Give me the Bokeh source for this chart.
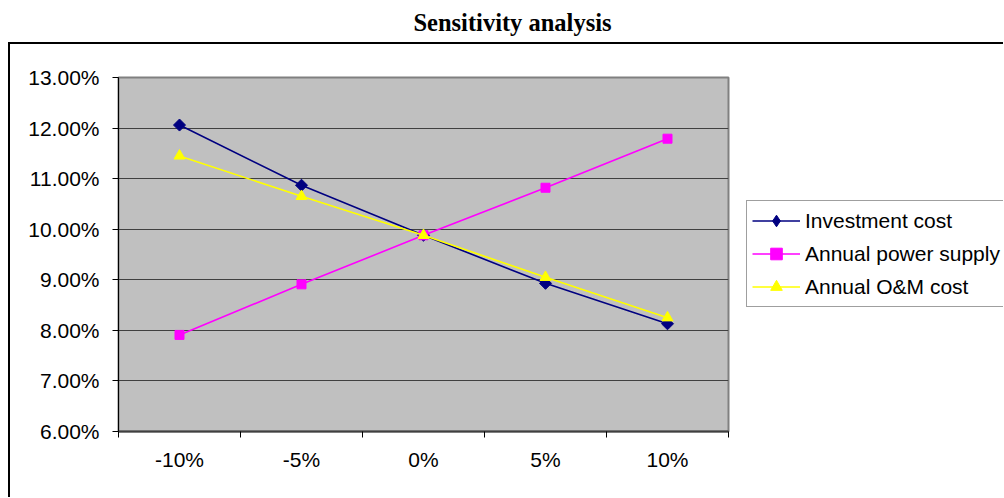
import math
from bokeh.plotting import figure
from bokeh.models import (Range1d, FixedTicker, NumeralTickFormatter, Legend,
                          LegendItem, Label, Row, Column)
from bokeh.embed import file_html
from bokeh.resources import INLINE

# ---- data ----
scenarios = ["-10%", "-5%", "0%", "5%", "10%"]
investment_cost = [0.1206, 0.1087, 0.0988, 0.0893, 0.0813]
annual_power_supply = [0.0791, 0.0891, 0.0988, 0.1082, 0.1179]
annual_om_cost = [0.1145, 0.1065, 0.0988, 0.0905, 0.0825]
y_ticks = [0.06, 0.07, 0.08, 0.09, 0.10, 0.11, 0.12, 0.13]
series_names = ["Investment cost", "Annual power supply", "Annual O&M cost"]
title_text = "Sensitivity analysis"

# category centres / boundaries on a numeric axis
x_pos = [i + 0.5 for i in range(len(scenarios))]
x_bounds = list(range(len(scenarios) + 1))

FONT = "Liberation Sans"
NAVY, MAGENTA, YELLOW = "#000080", "#FF00FF", "#FFFF00"

# ---------------- title strip ----------------
TW, TH = 995, 34
tfig = figure(width=TW, height=TH, output_backend="svg", toolbar_location=None,
              title=None, x_range=Range1d(0, TW), y_range=Range1d(0, TH),
              x_axis_type=None, y_axis_type=None, min_border=0)
tfig.outline_line_color = None
tfig.background_fill_color = "white"
tfig.border_fill_color = "white"
tfig.add_layout(Label(x=504, y=TH - 14, text=title_text,
                      text_font="Liberation Serif", text_font_style="bold",
                      text_font_size="24.5px", text_align="center",
                      text_baseline="alphabetic", text_color="black"))

# ---------------- main chart ----------------
MH = 453
FL, FT, FW, FH = 108, 33, 610, 354
FB = MH - FT - FH
MW = FL + FW + 10
p = figure(width=MW, height=MH, output_backend="svg", toolbar_location=None, title=None,
           x_range=Range1d(0, len(scenarios)), y_range=Range1d(y_ticks[0], y_ticks[-1]),
           min_border_left=FL, min_border_top=FT, min_border_right=10,
           min_border_bottom=FB)
p.background_fill_color = "#C0C0C0"
p.border_fill_color = "white"
p.outline_line_color = "#808080"
p.outline_line_width = 2

p.xgrid.visible = False
p.ygrid.ticker = FixedTicker(ticks=y_ticks)
p.ygrid.grid_line_color = "#404040"
p.ygrid.grid_line_width = 1

ya = p.yaxis[0]
ya.ticker = FixedTicker(ticks=y_ticks)
ya.formatter = NumeralTickFormatter(format="0.00%")
ya.major_tick_out = 6
ya.major_tick_in = 0
ya.minor_tick_line_color = None
ya.axis_line_color = "black"
ya.axis_line_width = 1
ya.major_tick_line_color = "black"
ya.major_label_text_font = FONT
ya.major_label_text_font_size = "21px"
ya.major_label_text_color = "black"
ya.major_label_standoff = 13

xa = p.xaxis[0]
xa.ticker = FixedTicker(ticks=x_pos, minor_ticks=x_bounds)
xa.major_label_overrides = {xv: s for xv, s in zip(x_pos, scenarios)}
xa.major_tick_out = 0
xa.major_tick_in = 0
xa.minor_tick_out = 6
xa.minor_tick_in = 0
xa.minor_tick_line_color = "black"
xa.axis_line_color = "#404040"
xa.axis_line_width = 2
xa.major_label_text_font = FONT
xa.major_label_text_font_size = "21px"
xa.major_label_text_color = "black"
xa.major_label_standoff = 10

p.line(x_pos, investment_cost, line_color=NAVY, line_width=1.6)
p.scatter(x_pos, investment_cost, marker="square", angle=math.pi / 4, size=8.5,
          fill_color=NAVY, line_color=NAVY)
p.line(x_pos, annual_power_supply, line_color=MAGENTA, line_width=1.6)
p.scatter(x_pos, annual_power_supply, marker="square", size=9,
          fill_color=MAGENTA, line_color=MAGENTA)
p.line(x_pos, annual_om_cost, line_color=YELLOW, line_width=1.6)
p.scatter(x_pos, annual_om_cost, marker="triangle", size=11,
          fill_color=YELLOW, line_color=YELLOW)

# ---------------- legend panel ----------------
LW = 265
lfig = figure(width=LW, height=MH, output_backend="svg", toolbar_location=None,
              title=None, x_range=Range1d(-20, -19), y_range=Range1d(-20, -19),
              x_axis_type=None, y_axis_type=None,
              min_border_left=0, min_border_right=0,
              min_border_top=FT, min_border_bottom=FB)
lfig.outline_line_color = None
lfig.background_fill_color = "white"
lfig.border_fill_color = "white"

items = []
for name, vals, col, mk in zip(series_names,
                               [investment_cost, annual_power_supply, annual_om_cost],
                               [NAVY, MAGENTA, YELLOW],
                               ["diamond", "square", "triangle"]):
    rl = lfig.line(x_pos, vals, line_color=col, line_width=1.5)
    rm = lfig.scatter(x_pos, vals, marker=mk, fill_color=col, line_color=col)
    items.append(LegendItem(label=name, renderers=[rl, rm]))

legend = Legend(items=items, location=(8, 124), orientation="vertical",
                label_text_font=FONT, label_text_font_size="21px", label_text_color="black",
                glyph_width=48, glyph_height=29, label_height=29, label_standoff=5,
                padding=5, spacing=4, margin=0,
                border_line_color="#404040", border_line_width=1,
                background_fill_color="white", background_fill_alpha=1.0)
lfig.add_layout(legend)

chart_area = Row(children=[p, lfig],
                 styles={"border-left": "2px solid black", "border-top": "2px solid black"})
layout = Column(children=[tfig, chart_area], margin=(8, 0, 0, 8))

open("out.html", "w").write(file_html(layout, INLINE))
